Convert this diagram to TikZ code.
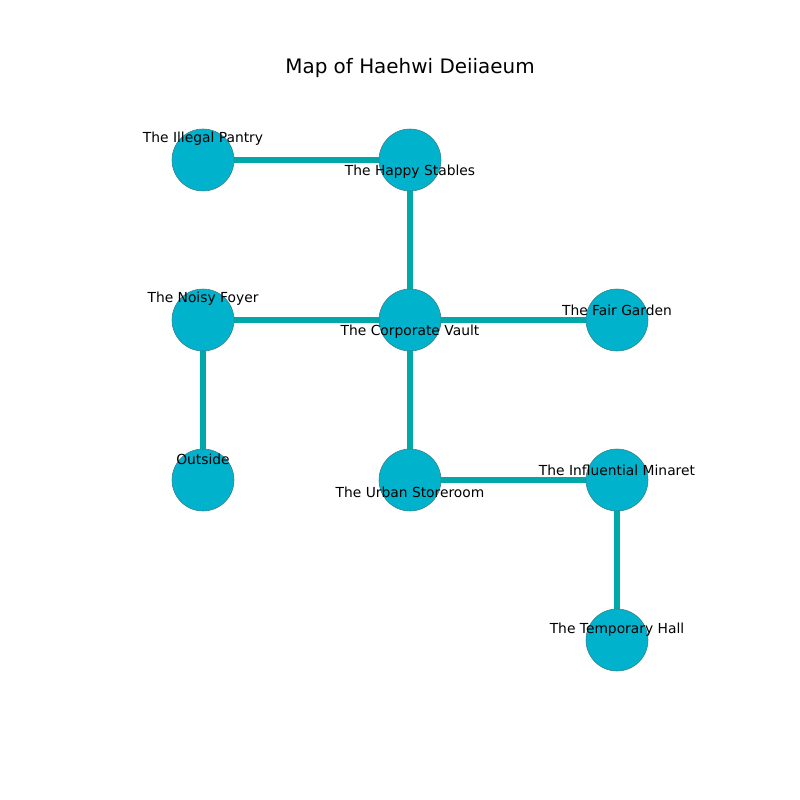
\documentclass[tikz,border=0pt]{standalone}
\usepackage{fontspec}
\setmainfont{DejaVu Sans}
\usetikzlibrary{positioning,calc}
\definecolor{Room}{HTML}{00B2CB}
\definecolor{Path}{HTML}{00A9A9}
\definecolor{Rim}{HTML}{3A7F8A}

\begin{document}
\begin{tikzpicture}[x=0.0254cm,y=-0.0254cm,
  room/.style={circle,fill=Room,draw=Rim,line width=.4pt,minimum size=1.575cm,inner sep=0pt},
  passage/.style={Path,line width=4.2pt},
  tag/.style={font=\fontsize{10}{12}\selectfont,inner sep=0pt}]
\useasboundingbox (0,0) rectangle (800,800);
\node[font=\fontsize{14.4}{17}\selectfont] (title) at (410,68) {Map of Haehwi Deiiaeum};
% rooms
\foreach \n/\x/\y in {pantry/203/160,stables/410/160,foyer/203/320,vault/410/320,garden/617/320,outside/203/480,storeroom/410/480,minaret/617/480,hall/617/640}{\coordinate (\n) at (\x,\y);}
% passages
\foreach \a/\b in {pantry/stables,stables/vault,foyer/vault,vault/garden,foyer/outside,vault/storeroom,storeroom/minaret,minaret/hall}{\draw[passage] (\a)--(\b);}
\foreach \n in {pantry,stables,foyer,vault,garden,outside,storeroom,minaret,hall}{\node[room] (\n-c) at (\n) {};}
% labels
\foreach \n/\dy/\lab in {pantry/-21/The Illegal Pantry,stables/12/The Happy Stables,foyer/-21/The Noisy Foyer,vault/12/The Corporate Vault,garden/-10/The Fair Garden,outside/-21/Outside,storeroom/12/The Urban Storeroom,minaret/-10/The Influential Minaret,hall/-10/The Temporary Hall}{\node[tag] (\n-t) at ($(\n)+(0,\dy)$) {\lab};}
\end{tikzpicture}
\end{document}
